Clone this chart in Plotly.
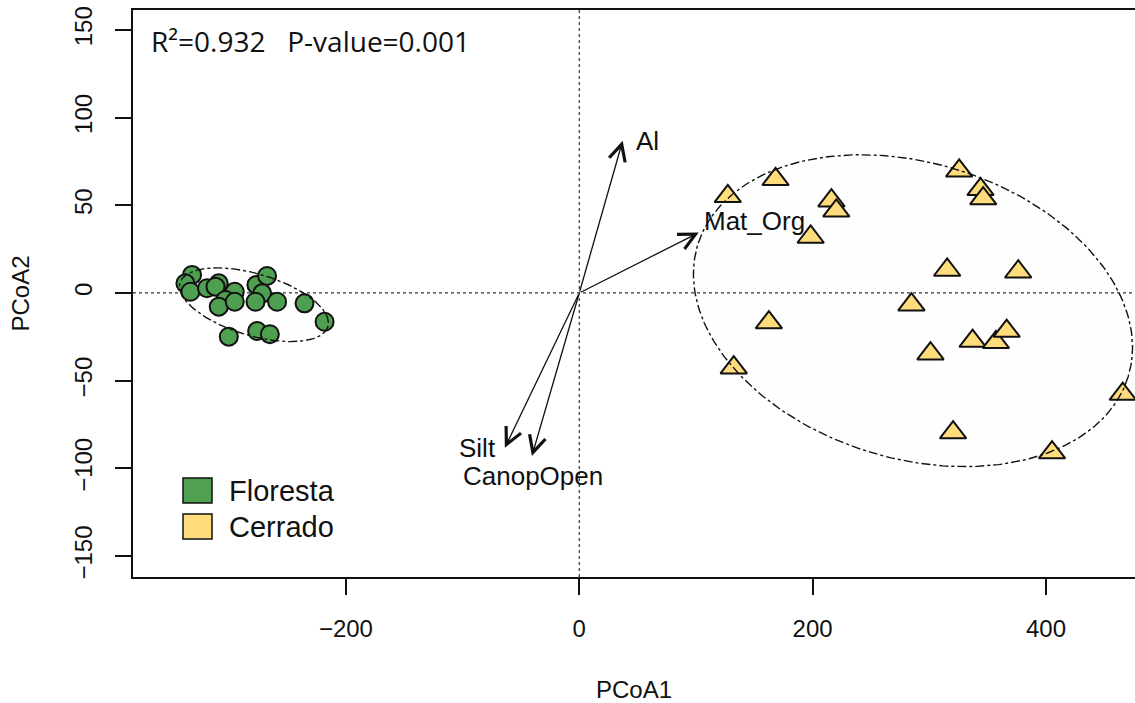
import numpy as np
import plotly.graph_objects as go

# Site scores on the first two principal coordinates
floresta_x = [-331.9, -337.6, -333.3, -319.1, -309.0, -311.8, -295.3, -303.3, -309.0, -295.3,
              -276.7, -267.6, -271.8, -277.5, -259.0, -235.5, -218.3, -300.4, -276.1, -265.2]
floresta_y = [10.3, 5.5, 0.7, 2.7, 5.5, 3.6, 0.7, -4.0, -7.8, -5.0,
              4.6, 9.7, -0.2, -5.0, -5.0, -5.9, -16.4, -24.9, -21.7, -23.5]

cerrado_x = [127.3, 168.2, 216.1, 220.3, 198.3, 325.6, 343.9, 346.2, 315.3, 376.2,
             284.7, 162.5, 132.4, 301.0, 337.1, 357.1, 366.3, 465.8, 320.4, 405.2]
cerrado_y = [55.1, 64.8, 52.6, 46.8, 31.9, 69.6, 59.1, 53.8, 13.1, 12.1,
             -6.7, -16.9, -42.6, -34.6, -27.4, -28.1, -21.7, -57.6, -79.6, -91.0]

# Fitted environmental vectors (arrow tips)
vec_names = ["Al", "Mat_Org", "Silt", "CanopOpen"]
vec_x = [37.2, 102.4, -63.8, -40.6]
vec_y = [86.8, 34.4, -88.2, -92.9]

# Group ellipses: centre, semi-major vector, semi-minor vector
ell_floresta = dict(cx=-278.8, cy=-6.7, ux=63.4, uy=-12.5, vx=-7.5, vy=-16.9)
ell_cerrado = dict(cx=286.0, cy=-10.1, ux=184.5, uy=-37.5, vx=-37.0, vy=-80.6)

stats_text = "R²=0.932   P-value=0.001"

GREEN = "#4FA050"
YELLOW = "#FFDD7C"
W, H = 1135, 703
L, R, T, B = 133, 0, 10, 126
XR = [-382.5, 476.3]
YR = [-161.9, 161.3]


def px_to_paper(px, py):
    return (px - L) / (W - L - R), 1 - (py - T) / (H - T - B)


def ellipse(e, n=240):
    t = np.linspace(0, 2 * np.pi, n)
    x = e["cx"] + e["ux"] * np.cos(t) + e["vx"] * np.sin(t)
    y = e["cy"] + e["uy"] * np.cos(t) + e["vy"] * np.sin(t)
    return x, y


fig = go.Figure()

fig.add_trace(go.Scatter(
    x=floresta_x, y=floresta_y, mode="markers", name="Floresta", showlegend=False,
    marker=dict(symbol="circle", size=18, color=GREEN, line=dict(color="#111", width=2)),
))
fig.add_trace(go.Scatter(
    x=cerrado_x, y=cerrado_y, mode="markers", name="Cerrado", showlegend=False,
    marker=dict(symbol="triangle-up", size=23, color=YELLOW, line=dict(color="#111", width=2)),
))

for e in (ell_floresta, ell_cerrado):
    ex, ey = ellipse(e)
    fig.add_trace(go.Scatter(
        x=ex, y=ey, mode="lines", showlegend=False, hoverinfo="skip",
        fill="toself", fillcolor="rgba(0,0,0,0.005)",
        line=dict(color="#111", width=1.4, dash="dashdot"),
    ))

# dotted cross-hairs through the origin
fig.add_shape(type="line", xref="x", yref="paper", x0=0, x1=0, y0=0, y1=1,
              line=dict(color="#333", width=1.2, dash="dot"), layer="below")
fig.add_shape(type="line", xref="paper", yref="y", x0=0, x1=1, y0=0, y1=0,
              line=dict(color="#333", width=1.2, dash="dot"), layer="below")

# environmental vectors
for xv, yv in zip(vec_x, vec_y):
    fig.add_annotation(x=xv, y=yv, ax=0, ay=0, xref="x", yref="y", axref="x", ayref="y",
                       text="", showarrow=True, arrowhead=5, arrowsize=2.5,
                       arrowwidth=1.3, arrowcolor="#111", standoff=0, startstandoff=0)

label_style = {
    "Al": dict(xanchor="left", xshift=11, yshift=0),
    "Mat_Org": dict(xanchor="left", xshift=3, yshift=12),
    "Silt": dict(xanchor="right", xshift=-7, yshift=0),
    "CanopOpen": dict(xanchor="center", xshift=1, yshift=-20),
}
for name, xv, yv in zip(vec_names, vec_x, vec_y):
    fig.add_annotation(x=xv, y=yv, xref="x", yref="y", text=name, showarrow=False,
                       yanchor="middle", font=dict(family="Liberation Sans, Arial", size=26, color="#111"),
                       **label_style[name])

# statistics
sx, sy = px_to_paper(149, 41)
fig.add_annotation(x=sx, y=sy, xref="paper", yref="paper", text=stats_text, showarrow=False,
                   xanchor="left", yanchor="middle",
                   font=dict(family="Open Sans", size=28, color="#111"))

# legend
for label, col, (y0, y1) in (("Floresta", GREEN, (478, 503)), ("Cerrado", YELLOW, (514, 539))):
    a0, b0 = px_to_paper(183, y1)
    a1, b1 = px_to_paper(212, y0)
    fig.add_shape(type="rect", xref="paper", yref="paper", x0=a0, x1=a1, y0=b0, y1=b1,
                  fillcolor=col, line=dict(color="#111", width=1.5))
    tx, ty = px_to_paper(227, (y0 + y1) / 2)
    fig.add_annotation(x=tx, y=ty, xref="paper", yref="paper", text=label, showarrow=False,
                       xanchor="left", yanchor="middle",
                       font=dict(family="Liberation Sans, Arial", size=29, color="#111"))

axis_font = dict(family="Liberation Sans, Arial", size=24, color="#111")
fig.update_xaxes(
    range=XR, tickvals=[-200, 0, 200, 400], ticks="outside", ticklen=16, tickwidth=1.5,
    tickcolor="#111", showline=True, linewidth=2, linecolor="#111", mirror=True,
    showgrid=False, zeroline=False, tickfont=axis_font, ticklabelstandoff=13,
    title=dict(text="PCoA1", font=axis_font, standoff=40), automargin=False,
)
fig.update_yaxes(
    range=YR, tickvals=[-150, -100, -50, 0, 50, 100, 150], ticks="outside", ticklen=16,
    tickwidth=1.5, tickcolor="#111", showline=True, linewidth=2, linecolor="#111",
    showgrid=False, zeroline=False, tickfont=axis_font, tickangle=-90, ticklabelstandoff=13,
    title=dict(text="PCoA2", font=axis_font, standoff=34), automargin=False,
)

fig.update_layout(
    width=W, height=H, autosize=False,
    margin=dict(l=L, r=R, t=T, b=B, pad=0),
    paper_bgcolor="white", plot_bgcolor="white",
    showlegend=False,
)

fig.write_html("out.html")
